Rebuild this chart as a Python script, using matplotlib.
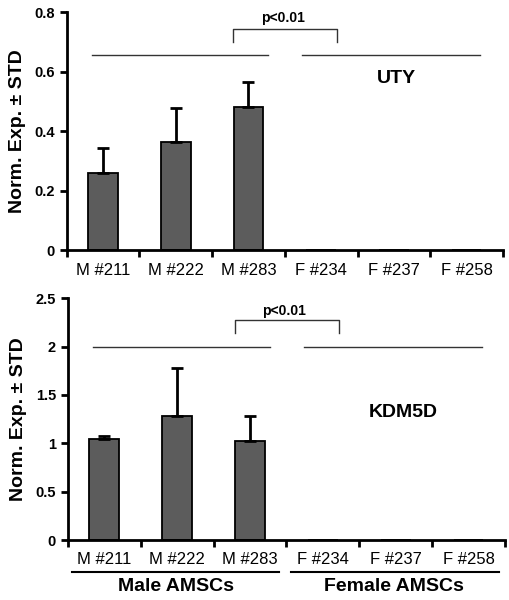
import numpy as np
import matplotlib.pyplot as plt
from matplotlib.transforms import blended_transform_factory

plt.rcParams['font.family'] = ['Liberation Sans', 'DejaVu Sans']

# Datos
samples = ['M #211', 'M #222', 'M #283', 'F #234', 'F #237', 'F #258']
uty_mean = [0.26, 0.364, 0.482, 0, 0, 0]
uty_std = [0.084, 0.112, 0.084, 0, 0, 0]
kdm_mean = [1.045, 1.286, 1.027, 0, 0, 0]
kdm_std = [0.035, 0.494, 0.259, 0, 0, 0]
groups = ['Male AMSCs', 'Female AMSCs']
genes = ['UTY', 'KDM5D']

x = np.arange(len(samples))

fig = plt.figure(figsize=(5.1, 6), dpi=100)
ax1 = fig.add_axes([0.131, 0.583, 0.855, 0.397])
ax2 = fig.add_axes([0.133, 0.100, 0.857, 0.403])


def panel(ax, mean, std, ymax, step, hline, br_top, br_bot, p_y, gene, gene_xy):
    ax.bar(x, mean, width=0.41, color='#5c5c5c', edgecolor='black', linewidth=1.3, zorder=2)
    ax.errorbar(x[:3], mean[:3], yerr=[np.zeros(3), std[:3]], fmt='none',
                ecolor='black', elinewidth=2, capsize=4, capthick=2, zorder=3)
    ax.set_xlim(-0.5, 5.5)
    ax.set_ylim(0, ymax)
    ax.set_yticks(np.arange(0, ymax + step / 2, step))
    ax.set_yticklabels(['%g' % v for v in np.arange(0, ymax + step / 2, step)],
                       fontweight='bold', fontsize=10.5)
    ax.set_xticks(x)
    ax.set_xticklabels(samples, fontsize=12)
    ax.set_xticks(np.arange(-0.5, 6, 1), minor=True)
    ax.tick_params(axis='x', which='major', length=0, pad=9)
    ax.tick_params(axis='x', which='minor', length=5, width=2, direction='out')
    ax.tick_params(axis='y', length=5, width=2, direction='out')
    for s in ['top', 'right']:
        ax.spines[s].set_visible(False)
    for s in ['left', 'bottom']:
        ax.spines[s].set_linewidth(2)
    ax.set_ylabel('Norm. Exp. ± STD', fontsize=14, fontweight='bold', labelpad=6)
    # lineas de grupo y significancia
    ax.plot([-0.16, 2.27], [hline, hline], color='#333333', lw=1)
    ax.plot([2.74, 5.18], [hline, hline], color='#333333', lw=1)
    ax.plot([1.79, 1.79, 3.22, 3.22], [br_bot, br_top, br_top, br_bot], color='#333333', lw=1)
    ax.text(2.47, p_y, 'p<0.01', ha='center', va='center', fontsize=10, fontweight='bold')
    ax.text(gene_xy[0], gene_xy[1], gene, ha='center', va='center', fontsize=14, fontweight='bold')


panel(ax1, uty_mean, uty_std, 0.8, 0.2, 0.655, 0.743, 0.70, 0.78, genes[0], (4.04, 0.578))
panel(ax2, kdm_mean, kdm_std, 2.5, 0.5, 2.0, 2.275, 2.14, 2.37, genes[1], (4.1, 1.32))

trans = blended_transform_factory(ax2.transData, ax2.transAxes)
ax2.plot([-0.44, 2.4], [-0.131, -0.131], color='black', lw=1.5, transform=trans, clip_on=False)
ax2.plot([2.57, 5.42], [-0.131, -0.131], color='black', lw=1.5, transform=trans, clip_on=False)
ax2.text(0.98, -0.193, groups[0], ha='center', va='center', fontsize=14, fontweight='bold',
         transform=trans)
ax2.text(3.98, -0.193, groups[1], ha='center', va='center', fontsize=14, fontweight='bold',
         transform=trans)

plt.savefig('out.png', dpi=100)
